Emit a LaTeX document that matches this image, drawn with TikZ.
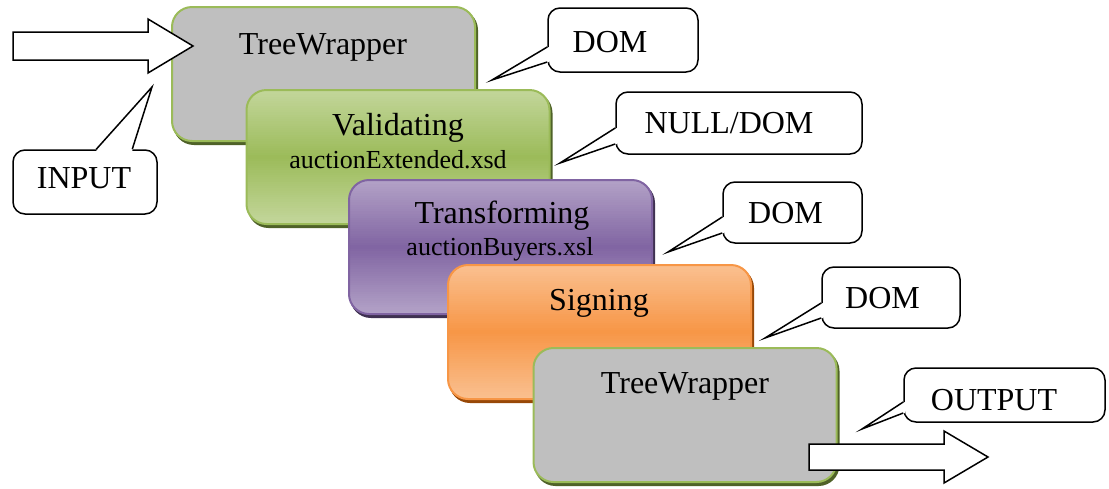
\documentclass[tikz,border=0pt]{standalone}
\usepackage{fontspec}
\setmainfont{Liberation Serif}
\usetikzlibrary{calc}

\definecolor{grayfill}{HTML}{BFBFBF}
\definecolor{greenedge}{HTML}{9BBB59}
\definecolor{greenlight}{HTML}{C3D69B}
\definecolor{greendark}{HTML}{4F6228}
\definecolor{purpleedge}{HTML}{8064A2}
\definecolor{purplelight}{HTML}{B3A2C7}
\definecolor{purpledark}{HTML}{3F3151}
\definecolor{orangeedge}{HTML}{F79646}
\definecolor{orangelight}{HTML}{FAC090}
\definecolor{orangedark}{HTML}{984807}

% light -> deep -> light vertical fade, built from thin bands
\newcommand\gradstrips[2]{%
  \foreach \k in {0,...,59}{%
    \pgfmathsetmacro\fa{\k/60}%
    \pgfmathsetmacro\fb{(\k+1.4)/60}%
    \pgfmathtruncatemacro\mix{100*(1-abs(2*(\k+0.5)/60-1))}%
    \fill[sharp corners, #2!\mix!#1]
      ($(path picture bounding box.north west)!\fa!(path picture bounding box.south west)$)
      rectangle
      ($(path picture bounding box.north east)!\fb!(path picture bounding box.south east)$);
  }}

\begin{document}
\begin{tikzpicture}[x=1pt,y=-1pt,
  stage/.style={rounded corners=20pt, line width=2pt, minimum width=303pt,
    minimum height=134pt, inner sep=0pt},
  grayst/.style={stage, fill=grayfill, draw=greenedge},
  greenst/.style={stage, draw=greenedge,
    path picture={\gradstrips{greenlight}{greenedge}}},
  purplest/.style={stage, draw=purpleedge,
    path picture={\gradstrips{purplelight}{purpleedge}}},
  orangest/.style={stage, draw=orangeedge,
    path picture={\gradstrips{orangelight}{orangeedge}}},
  backing/.style={stage, fill=#1, draw=#1},
  title/.style={font=\fontsize{32}{38}\selectfont, inner sep=0pt, anchor=base},
  subtitle/.style={font=\fontsize{26}{31}\selectfont, inner sep=0pt, anchor=base},
  bubble/.style={draw=black, fill=white, line width=1.5pt, rounded corners=12pt,
    inner sep=0pt},
  tail/.style={draw=black, line width=1.5pt, line join=miter},
  blockarrow/.style={draw=black, fill=white, line width=1.5pt, line join=miter}
]
\useasboundingbox (0,0) rectangle (1109,488);

% --- processing stages, back to front ---
\node[backing=greendark] at (325.5,77) {};
\node[grayst] (s1) at (323.5,74) {};
\node[title] (s1t) at (323,54) {TreeWrapper};

\node[backing=greendark] at (400,160) {};
\node[greenst] (s2) at (398,157) {};
\node[title] (s2t) at (398,135) {Validating};
\node[subtitle] (s2s) at (398,168) {auctionExtended.xsd};

\node[backing=purpledark] at (502.5,250) {};
\node[purplest] (s3) at (500.5,247) {};
\node[title] (s3t) at (502,223) {Transforming};
\node[subtitle] (s3s) at (500,255) {auctionBuyers.xsl};

\node[backing=orangedark] at (601.5,335) {};
\node[orangest] (s4) at (599.5,332) {};
\node[title] (s4t) at (599,310) {Signing};

\node[backing=greendark] at (687,418) {};
\node[grayst] (s5) at (685,415) {};
\node[title] (s5t) at (685,393) {TreeWrapper};

% --- speech bubbles with their pointers ---
\coordinate (p1) at (492,80);
\coordinate (p2) at (560,163);
\coordinate (p3) at (668,252);
\coordinate (p4) at (765,338);
\coordinate (p5) at (862,429);
\coordinate (p6) at (152,87);

\node[bubble, minimum width=150pt, minimum height=64pt] (c1) at (623,40) {};
\fill[white] ($(c1.west)+(1.5,7)$) -- (p1) -- ($(c1.west)+(1.5,22)$) -- cycle;
\draw[tail] ($(c1.west)+(0,7)$) -- (p1) -- ($(c1.west)+(0,22)$);
\node[title] (c1t) at (610,52) {DOM};

\node[bubble, minimum width=246pt, minimum height=62pt] (c2) at (739,123) {};
\fill[white] ($(c2.west)+(1.5,5)$) -- (p2) -- ($(c2.west)+(1.5,21)$) -- cycle;
\draw[tail] ($(c2.west)+(0,5)$) -- (p2) -- ($(c2.west)+(0,21)$);
\node[title] (c2t) at (729,133) {NULL/DOM};

\node[bubble, minimum width=139pt, minimum height=61pt] (c3) at (792.5,212.5) {};
\fill[white] ($(c3.west)+(1.5,4.5)$) -- (p3) -- ($(c3.west)+(1.5,20.5)$) -- cycle;
\draw[tail] ($(c3.west)+(0,4.5)$) -- (p3) -- ($(c3.west)+(0,20.5)$);
\node[title] (c3t) at (785.5,223) {DOM};

\node[bubble, minimum width=138pt, minimum height=61pt] (c4) at (891,297.5) {};
\fill[white] ($(c4.west)+(1.5,5.5)$) -- (p4) -- ($(c4.west)+(1.5,20.5)$) -- cycle;
\draw[tail] ($(c4.west)+(0,5.5)$) -- (p4) -- ($(c4.west)+(0,20.5)$);
\node[title] (c4t) at (882.5,308) {DOM};

\node[bubble, minimum width=201pt, minimum height=54pt] (c5) at (1004.5,395) {};
\fill[white] ($(c5.west)+(1.5,7)$) -- (p5) -- ($(c5.west)+(1.5,18)$) -- cycle;
\draw[tail] ($(c5.west)+(0,7)$) -- (p5) -- ($(c5.west)+(0,18)$);
\node[title] (c5t) at (994,410) {OUTPUT};

\node[bubble, minimum width=144pt, minimum height=64pt] (c6) at (85,182) {};
\fill[white] ($(c6.north west)+(84,1.5)$) -- (p6) -- ($(c6.north west)+(120,1.5)$) -- cycle;
\draw[tail] ($(c6.north west)+(84,0)$) -- (p6) -- ($(c6.north west)+(120,0)$);
\node[title] (c6t) at (84,188) {INPUT};

% --- block arrows for data in and out ---
\draw[blockarrow] (13,32) -- (148,32) -- (148,19) -- (193,46) -- (148,73)
  -- (148,60) -- (13,60) -- cycle;
\draw[blockarrow] (809,444) -- (944,444) -- (944,431) -- (988,457) -- (944,483)
  -- (944,470) -- (809,470) -- cycle;
\end{tikzpicture}
\end{document}
